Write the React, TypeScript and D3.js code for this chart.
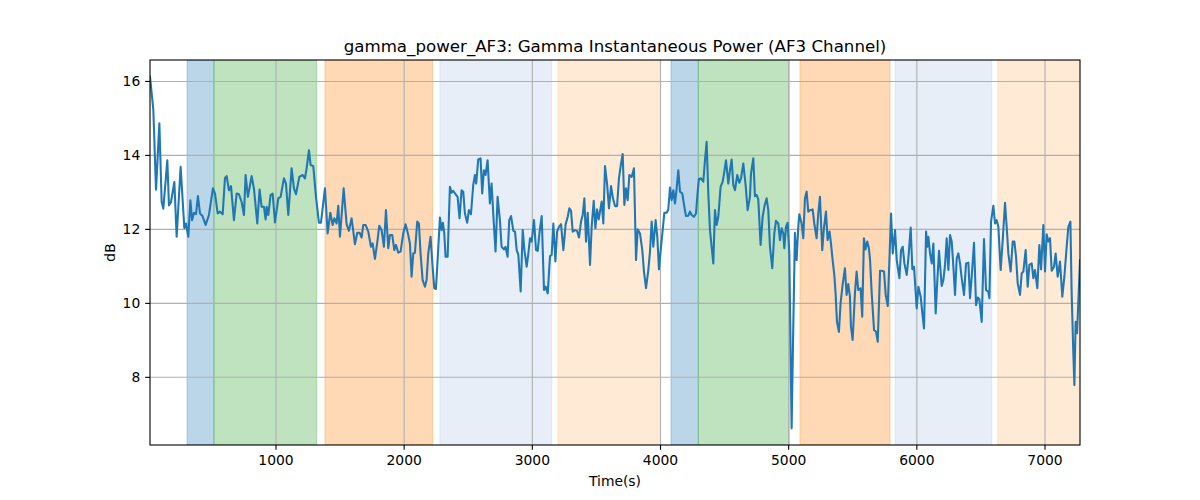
import React from "react";
import * as d3 from "d3";

const TITLE = "gamma_power_AF3: Gamma Instantaneous Power (AF3 Channel)";
const X_LABEL = "Time(s)";
const Y_LABEL = "dB";
const X_TICKS = [1000, 2000, 3000, 4000, 5000, 6000, 7000];
const Y_TICKS = [8, 10, 12, 14, 16];
const X_DOMAIN = [17, 7273];
const Y_DOMAIN = [6.17, 16.58];

const BAND_START = [306, 516, 1382, 2279, 3200, 4082, 4295, 5088, 5830, 6631];
const BAND_END = [516, 1317, 2222, 3151, 4000, 4295, 5005, 5791, 6584, 7300];
const BAND_COLOR = ["#1f77b4", "#2ca02c", "#ff7f0e", "#aec7e8", "#ffbb78", "#1f77b4", "#2ca02c", "#ff7f0e", "#aec7e8", "#ffbb78"];

const TIME = [
  17, 43, 64, 90, 108, 121, 152, 165, 181, 207, 225, 256, 285, 298, 316, 332, 345, 360, 376, 391,
  407, 425, 451, 477, 508, 524, 545, 563, 584, 602, 615, 633, 649, 672, 693, 711, 732, 750, 763, 781,
  810, 828, 854, 872, 888, 906, 919, 927, 940, 958, 974, 992, 1018, 1036, 1062, 1078, 1096, 1122, 1140, 1156,
  1182, 1208, 1226, 1239, 1257, 1270, 1291, 1312, 1335, 1351, 1382, 1403, 1424, 1442, 1455, 1473, 1486, 1499, 1528, 1551,
  1569, 1590, 1616, 1634, 1652, 1668, 1681, 1699, 1720, 1741, 1754, 1772, 1790, 1806, 1824, 1842, 1858, 1876, 1889, 1907,
  1923, 1936, 1954, 1972, 1993, 2011, 2032, 2045, 2058, 2071, 2084, 2102, 2115, 2128, 2144, 2162, 2175, 2188, 2206, 2222,
  2235, 2248, 2261, 2279, 2292, 2302, 2313, 2323, 2339, 2357, 2370, 2383, 2401, 2417, 2432, 2448, 2461, 2474, 2492, 2505,
  2521, 2539, 2552, 2562, 2578, 2596, 2609, 2622, 2635, 2651, 2669, 2682, 2698, 2713, 2729, 2747, 2760, 2778, 2791, 2807,
  2820, 2834, 2852, 2865, 2878, 2891, 2909, 2925, 2938, 2956, 2969, 2982, 2995, 3013, 3029, 3042, 3057, 3073, 3091, 3104,
  3120, 3138, 3151, 3164, 3180, 3193, 3208, 3224, 3242, 3260, 3276, 3289, 3302, 3315, 3333, 3349, 3364, 3380, 3393, 3406,
  3419, 3432, 3450, 3463, 3479, 3492, 3505, 3518, 3528, 3541, 3554, 3567, 3583, 3598, 3614, 3629, 3645, 3661, 3676, 3692,
  3705, 3718, 3731, 3744, 3757, 3775, 3793, 3809, 3822, 3840, 3858, 3871, 3887, 3905, 3918, 3931, 3944, 3962, 3975, 3988,
  4004, 4017, 4030, 4048, 4061, 4074, 4087, 4100, 4113, 4126, 4139, 4152, 4170, 4186, 4199, 4217, 4230, 4243, 4261, 4277,
  4290, 4300, 4316, 4334, 4347, 4360, 4373, 4386, 4399, 4412, 4425, 4438, 4451, 4469, 4485, 4498, 4511, 4529, 4542, 4555,
  4568, 4581, 4599, 4615, 4628, 4646, 4664, 4680, 4698, 4706, 4724, 4737, 4750, 4763, 4781, 4797, 4810, 4828, 4841, 4854,
  4872, 4888, 4901, 4919, 4932, 4945, 4958, 4966, 4979, 4992, 5005, 5023, 5036, 5049, 5062, 5075, 5083, 5101, 5114, 5127,
  5140, 5153, 5166, 5187, 5200, 5218, 5231, 5244, 5262, 5275, 5291, 5304, 5319, 5330, 5343, 5356, 5366, 5377, 5392, 5405,
  5421, 5439, 5452, 5465, 5478, 5486, 5499, 5517, 5530, 5543, 5561, 5574, 5587, 5600, 5613, 5626, 5635, 5648, 5666, 5682,
  5695, 5713, 5726, 5744, 5757, 5773, 5786, 5799, 5812, 5830, 5843, 5864, 5877, 5890, 5903, 5921, 5934, 5952, 5965, 5978,
  5999, 6012, 6030, 6043, 6056, 6072, 6082, 6090, 6103, 6116, 6129, 6147, 6160, 6173, 6194, 6207, 6220, 6233, 6246, 6259,
  6272, 6285, 6298, 6311, 6324, 6337, 6350, 6368, 6384, 6402, 6415, 6428, 6446, 6462, 6475, 6488, 6506, 6524, 6540, 6558,
  6566, 6579, 6597, 6610, 6623, 6636, 6654, 6670, 6688, 6701, 6714, 6732, 6748, 6761, 6774, 6787, 6805, 6818, 6831, 6849,
  6865, 6878, 6896, 6909, 6922, 6940, 6956, 6969, 6987, 7000, 7013, 7026, 7039, 7052, 7070, 7083, 7099, 7117, 7135, 7151,
  7169, 7182, 7198, 7208, 7221, 7229, 7239, 7250, 7260, 7273,
];

const POWER_DB = [
  16.13, 15.23, 13.07, 14.87, 12.74, 12.56, 13.87, 12.65, 12.74, 13.28, 11.8, 13.69, 12.03, 12.16, 11.8, 12.79, 12.25, 12.45, 12.41, 12.9,
  12.43, 12.37, 12.12, 12.39, 13.11, 12.97, 12.43, 12.48, 12.41, 13.39, 13.44, 13.06, 13.17, 12.25, 12.97, 12.95, 12.74, 12.39, 13.47, 12.88,
  13.44, 13.1, 12.16, 13.08, 12.61, 12.61, 12.27, 12.61, 12.39, 12.93, 12.97, 12.19, 12.84, 12.88, 13.38, 13.24, 12.39, 13.65, 13.11, 12.95,
  13.42, 13.47, 13.38, 13.65, 14.14, 13.74, 13.71, 12.88, 12.18, 12.18, 13.11, 11.89, 12.45, 12.12, 12.3, 12.16, 12.64, 11.8, 13.11, 12.14,
  11.96, 12.3, 11.6, 11.91, 11.91, 11.78, 12.12, 12.12, 11.94, 11.53, 11.62, 11.2, 11.64, 12.1, 11.98, 11.53, 12.52, 11.49, 11.85, 11.85,
  11.44, 11.58, 11.37, 11.4, 11.89, 12.14, 11.85, 11.62, 10.72, 11.35, 11.37, 12.21, 12.16, 11.35, 10.63, 10.45, 10.63, 11.35, 11.8, 10.99,
  10.41, 10.39, 11.17, 12.32, 11.98, 12.18, 11.89, 11.26, 11.26, 13.15, 12.99, 13.04, 12.95, 12.88, 12.3, 13.06, 13.02, 12.43, 12.18, 12.52,
  12.41, 13.2, 13.47, 13.24, 13.89, 13.92, 12.97, 13.6, 13.47, 13.87, 12.7, 13.24, 12.25, 11.4, 12.88, 12.25, 11.53, 11.46, 11.53, 11.26,
  12.25, 12.36, 11.96, 11.94, 11.44, 11.31, 10.32, 11.98, 11.44, 10.99, 11.35, 11.76, 11.67, 12.25, 11.44, 11.42, 11.94, 12.36, 10.36, 10.45,
  10.27, 11.28, 11.31, 12.16, 11.13, 11.94, 12.07, 12.14, 11.44, 12.14, 12.34, 12.57, 12.5, 11.94, 11.98, 11.96, 11.78, 12.21, 12.39, 12.84,
  11.67, 12.45, 11.04, 12.07, 12.77, 12.03, 12.54, 12.27, 12.48, 12.75, 12.16, 13.71, 13.24, 12.57, 13.17, 12.84, 12.63, 12.63, 13.38, 13.78,
  14.04, 12.66, 13.11, 12.79, 13.47, 13.42, 13.65, 11.17, 12.0, 11.89, 11.44, 10.86, 10.41, 10.9, 11.4, 12.21, 11.53, 12.25, 11.8, 10.92,
  11.53, 11.98, 12.45, 12.45, 12.54, 13.13, 12.79, 13.06, 12.7, 13.11, 13.6, 13.02, 12.97, 12.61, 12.36, 12.37, 12.48, 12.39, 12.34, 12.43,
  13.02, 13.36, 13.38, 13.29, 13.87, 14.37, 12.97, 11.98, 11.53, 11.08, 12.52, 12.12, 12.34, 13.15, 13.29, 13.56, 13.87, 13.24, 13.6, 13.89,
  13.2, 13.06, 13.47, 13.26, 13.38, 13.78, 13.2, 12.52, 12.88, 13.51, 13.92, 12.9, 12.93, 12.81, 11.58, 12.34, 12.61, 12.84, 12.52, 11.53,
  10.95, 11.89, 12.23, 12.16, 11.71, 12.03, 11.89, 11.49, 12.07, 12.18, 11.35, 6.62, 9.37, 11.91, 11.17, 12.07, 12.41, 12.16, 11.76, 12.84,
  13.02, 12.48, 12.52, 12.54, 12.16, 11.76, 12.43, 12.88, 11.44, 12.03, 12.48, 11.71, 11.94, 11.62, 11.17, 10.77, 10.27, 9.5, 9.23, 10.0,
  10.5, 10.95, 10.23, 10.52, 10.18, 9.37, 9.01, 10.27, 10.86, 10.36, 10.41, 9.64, 11.76, 11.46, 11.67, 11.49, 11.17, 10.27, 9.28, 9.23,
  8.96, 10.88, 10.88, 10.86, 10.23, 9.93, 11.17, 12.43, 11.35, 11.98, 11.17, 10.68, 11.44, 11.53, 11.08, 10.77, 11.22, 12.05, 10.92, 10.99,
  9.86, 10.45, 10.18, 9.73, 9.32, 11.94, 11.53, 11.8, 11.35, 11.08, 11.62, 9.73, 10.63, 11.42, 10.47, 10.63, 11.04, 11.76, 10.9, 11.85,
  11.67, 10.99, 10.23, 11.22, 11.35, 11.08, 10.68, 10.23, 11.08, 11.1, 10.14, 10.72, 11.64, 9.95, 10.16, 10.11, 9.5, 11.74, 10.36, 10.32,
  10.14, 12.21, 12.64, 12.16, 12.25, 12.07, 10.9, 11.71, 12.72, 12.07, 11.35, 10.86, 11.67, 11.67, 11.26, 10.54, 10.23, 10.81, 10.86, 11.44,
  10.45, 11.04, 11.08, 10.68, 10.9, 10.41, 11.58, 10.92, 12.12, 10.86, 11.87, 11.67, 11.76, 10.88, 10.99, 11.35, 10.72, 11.13, 10.18, 10.72,
  11.53, 12.07, 12.21, 10.27, 8.65, 7.79, 9.5, 9.19, 10.05, 11.17,
];

const W = 1200;
const H = 500;
const M = { left: 150, right: 1080, top: 60, bottom: 445 };
const FONT = "DejaVu Sans, sans-serif";

export default function App() {
  const x = d3.scaleLinear().domain(X_DOMAIN).range([M.left, M.right]);
  const y = d3.scaleLinear().domain(Y_DOMAIN).range([M.bottom, M.top]);
  const pts: [number, number][] = TIME.map((t, i) => [t, POWER_DB[i]]);
  const line = d3
    .line<[number, number]>()
    .x((d) => x(d[0]))
    .y((d) => y(d[1]));
  const tickLen = 4.86;
  const pad = 4.86;

  return (
    <svg
      width={W}
      height={H}
      style={{ position: "absolute", left: 0, top: 0, background: "#fff" }}
      fontFamily={FONT}
    >
      <defs>
        <clipPath id="plotclip">
          <rect x={M.left} y={M.top} width={M.right - M.left} height={M.bottom - M.top} />
        </clipPath>
      </defs>
      <rect x={0} y={0} width={W} height={H} fill="#fff" />
      <g clipPath="url(#plotclip)">
        {BAND_START.map((s, i) => (
          <rect
            key={"b" + i}
            x={x(s)}
            y={M.top}
            width={x(BAND_END[i]) - x(s)}
            height={M.bottom - M.top}
            fill={BAND_COLOR[i]}
            fillOpacity={0.3}
            stroke={BAND_COLOR[i]}
            strokeOpacity={0.3}
            strokeWidth={1}
          />
        ))}
        {X_TICKS.map((t) => (
          <line key={"gx" + t} x1={x(t)} x2={x(t)} y1={M.top} y2={M.bottom} stroke="#b0b0b0" strokeWidth={1.1} />
        ))}
        {Y_TICKS.map((t) => (
          <line key={"gy" + t} x1={M.left} x2={M.right} y1={y(t)} y2={y(t)} stroke="#b0b0b0" strokeWidth={1.1} />
        ))}
        <path d={line(pts) || ""} fill="none" stroke="#1f77b4" strokeWidth={2.08} strokeLinejoin="round" strokeLinecap="square" />
      </g>
      <rect
        x={M.left}
        y={M.top}
        width={M.right - M.left}
        height={M.bottom - M.top}
        fill="none"
        stroke="#000"
        strokeWidth={1.1}
      />
      {X_TICKS.map((t) => (
        <g key={"tx" + t}>
          <line x1={x(t)} x2={x(t)} y1={M.bottom} y2={M.bottom + tickLen} stroke="#000" strokeWidth={1.1} />
          <text x={x(t)} y={M.bottom + tickLen + pad + 10.3} fontSize={13.89} textAnchor="middle" fill="#000">
            {t}
          </text>
        </g>
      ))}
      {Y_TICKS.map((t) => (
        <g key={"ty" + t}>
          <line x1={M.left - tickLen} x2={M.left} y1={y(t)} y2={y(t)} stroke="#000" strokeWidth={1.1} />
          <text x={M.left - tickLen - pad} y={y(t) + 5} fontSize={13.89} textAnchor="end" fill="#000">
            {t}
          </text>
        </g>
      ))}
      <text x={(M.left + M.right) / 2} y={486} fontSize={13.89} textAnchor="middle" fill="#000">
        {X_LABEL}
      </text>
      <text
        x={0}
        y={0}
        fontSize={13.89}
        textAnchor="middle"
        fill="#000"
        transform={`translate(115, ${(M.top + M.bottom) / 2}) rotate(-90)`}
      >
        {Y_LABEL}
      </text>
      <text x={(M.left + M.right) / 2} y={52} fontSize={16.67} textAnchor="middle" fill="#000">
        {TITLE}
      </text>
    </svg>
  );
}
